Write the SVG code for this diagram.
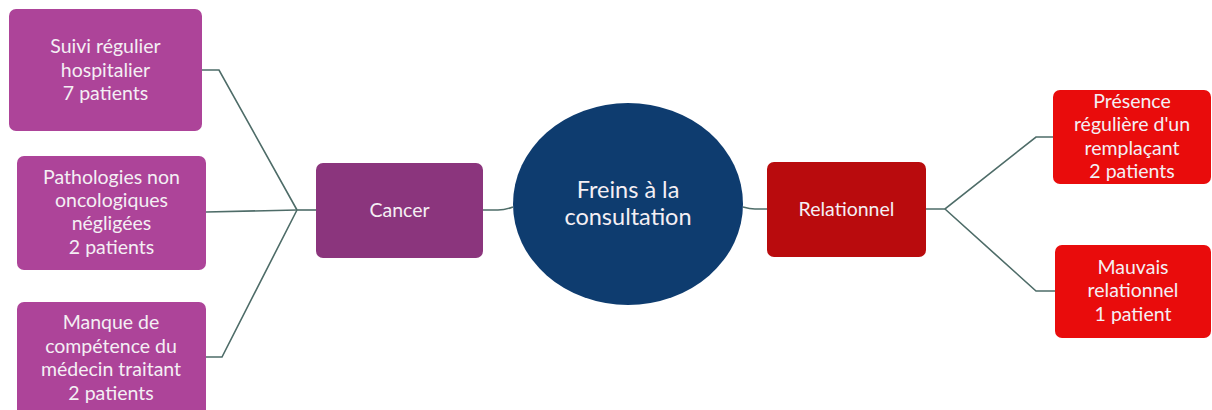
<svg xmlns="http://www.w3.org/2000/svg" width="1212" height="410" viewBox="0 0 1212 410">
<style>
text{font-family:Lato,"Open Sans","Liberation Sans",sans-serif;font-size:19.5px;fill:#f4eff4;text-anchor:middle}
.big{font-size:23.5px}
.leaf{fill:#ad4499}
.conn{fill:none;stroke:#4e6c68;stroke-width:1.6}
</style>
<rect width="1212" height="410" fill="#ffffff"/>
<g id="connectors">
<path class="conn" d="M202,70 L219,70 L297,210"/>
<path class="conn" d="M206,212 L297,210"/>
<path class="conn" d="M206,357 L222,357 L297,210"/>
<path class="conn" d="M297,210 L316,210"/>
<path class="conn" d="M483,210 L498,210 Q505,210 513,207"/>
<path class="conn" d="M743,207 Q750,209 755,209 L767,209"/>
<path class="conn" d="M926,209 L945,209 L1036,137 L1053,137"/>
<path class="conn" d="M945,209 L1036,291 L1055,291"/>
</g>
<g id="suivi">
<rect class="leaf" x="9" y="9" width="193" height="122" rx="7"/>
<text x="105.5" y="53">Suivi régulier</text>
<text x="105.5" y="77">hospitalier</text>
<text x="105.5" y="100">7 patients</text>
</g>
<g id="pathologies">
<rect class="leaf" x="17" y="156" width="189" height="114" rx="7"/>
<text x="111.5" y="184">Pathologies non</text>
<text x="111.5" y="207">oncologiques</text>
<text x="111.5" y="230">négligées</text>
<text x="111.5" y="254">2 patients</text>
</g>
<g id="manque">
<rect class="leaf" x="17" y="302" width="189" height="120" rx="7"/>
<text x="111" y="329">Manque de</text>
<text x="111" y="353">compétence du</text>
<text x="111" y="376">médecin traitant</text>
<text x="111" y="400">2 patients</text>
</g>
<g id="cancer">
<rect x="316" y="163" width="167" height="95" rx="7" fill="#8b357d"/>
<text x="399.5" y="217">Cancer</text>
</g>
<g id="freins">
<ellipse cx="628" cy="204" rx="115" ry="101" fill="#0e3c6f"/>
<text class="big" x="628" y="198">Freins à la</text>
<text class="big" x="628" y="225">consultation</text>
</g>
<g id="relationnel">
<rect x="767" y="162" width="159" height="95" rx="7" fill="#b90b0d"/>
<text x="846.5" y="216">Relationnel</text>
</g>
<g id="presence">
<rect x="1053" y="90" width="158" height="94" rx="7" fill="#e90c0c"/>
<text x="1132" y="108">Présence</text>
<text x="1132" y="131">régulière d'un</text>
<text x="1132" y="155">remplaçant</text>
<text x="1132" y="178">2 patients</text>
</g>
<g id="mauvais">
<rect x="1055" y="245" width="156" height="93" rx="7" fill="#e90c0c"/>
<text x="1133" y="274">Mauvais</text>
<text x="1133" y="297">relationnel</text>
<text x="1133" y="321">1 patient</text>
</g>
</svg>
